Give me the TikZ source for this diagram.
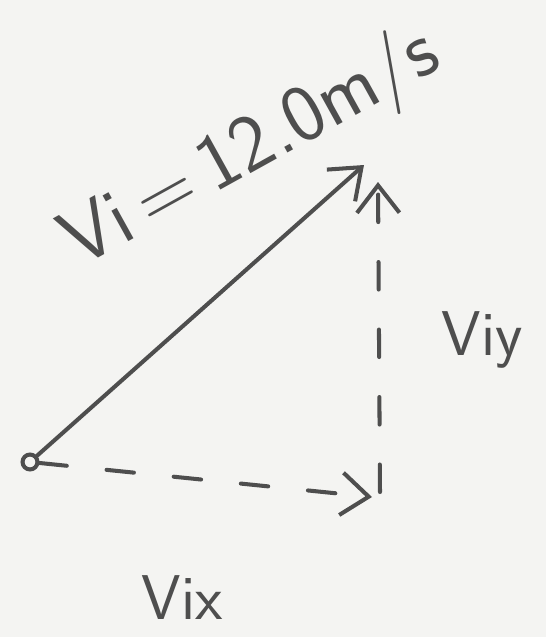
\documentclass[tikz,border=0pt]{standalone}
\usepackage{tikz}
\usepackage{xcolor}
\usetikzlibrary{arrows.meta}
\usetikzlibrary{positioning}

\definecolor{paper}{HTML}{F4F4F2}
\definecolor{lead}{HTML}{4E4E4E}

\begin{document}
\begin{tikzpicture}[x=0.02cm, y=-0.02cm,
    pencil/.style={draw=lead, line width=2.3pt, line cap=round},
    barb/.style={-{Straight Barb[length=0.55cm, width=0.85cm]}},
    comp/.style={pencil, barb, dash pattern=on 0.55cm off 0.8cm},
    lbl/.style={text=lead, font=\sffamily\fontsize{36}{40}\selectfont}]
    \fill[paper] (0,0) rectangle (546,637);
    \useasboundingbox (0,0) rectangle (546,637);
    % start point and ends of the vectors
    \node[circle, draw=lead, line width=2.3pt, inner sep=3pt] (o) at (30,462) {};
    \coordinate (tip) at (364,165);
    \coordinate (xend) at (372,497);
    \coordinate (ybot) at (380,492);
    \coordinate (ytop) at (378,182);
    \draw[pencil, barb] (o) -- (tip);
    \draw[comp] (o) -- (xend);
    \draw[comp] (ybot) -- (ytop);
    % labels
    \node[lbl, rotate=29, font=\sffamily\fontsize{46}{50}\selectfont] (vi) at (252,150) {Vi\,=\,12.0m/s};
    \node[lbl] (viy) at (482,340) {Viy};
    \node[lbl] (vix) at (182,598) {Vix};
\end{tikzpicture}
\end{document}
